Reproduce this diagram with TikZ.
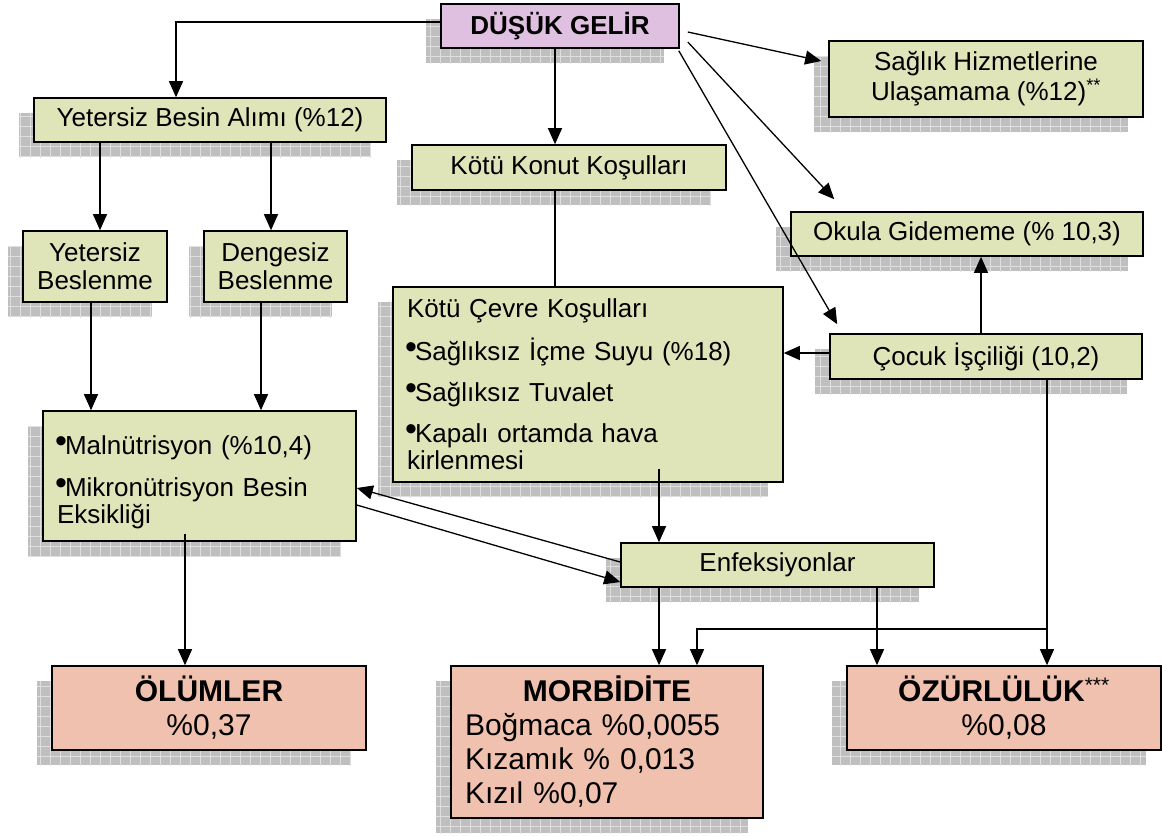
\documentclass[tikz,border=0pt]{standalone}
\usepackage{fontspec}
\setmainfont{Liberation Sans}
\usepackage{tikz}
\usetikzlibrary{positioning,arrows.meta,shadows,patterns.meta}
\definecolor{boxgreen}{HTML}{DFE5B9}
\definecolor{boxpink}{HTML}{F0C1AE}
\definecolor{boxlilac}{HTML}{E0C0E0}
\newcommand{\blt}{\makebox[8pt][c]{\raisebox{2pt}{\fontsize{34}{34}\selectfont •}}}
\tikzset{%
  shd/.style = {drop shadow={shadow xshift=-15pt,shadow yshift=-15pt,
        opacity=1,fill=gray!50},
        general shadow={shadow xshift=-15pt,shadow yshift=-15pt,
        pattern={Hatch[distance=10pt,angle=0,line width=.6pt]},pattern color=gray!25}},
  bx/.style = {rectangle,draw,line width=1.6pt,shd,inner sep=0pt,
        font=\fontsize{26}{28}\selectfont,align=center},
  gbx/.style = {bx,fill=boxgreen},
  pbx/.style = {bx,fill=boxpink,font=\fontsize{30}{34}\selectfont},
  lbx/.style = {bx,fill=boxlilac},
  arr/.style = {-{Triangle[length=16pt,width=14pt]},line width=1.3pt},
  ln/.style = {line width=1.3pt}
}

\begin{document}
\begin{tikzpicture}[x=1pt,y=-1pt]
\useasboundingbox (0,0) rectangle (1162,836);
% top row
\node[lbx,minimum width=238pt,minimum height=44pt] (gelir) at (560,26) {\textbf{DÜŞÜK GELİR}};
\node[gbx,minimum width=352pt,minimum height=44pt] (besin) at (210,120) {Yetersiz Besin Alımı (\%12)};
\node[gbx,minimum width=314pt,minimum height=45pt] (konut) at (569,167.5) {Kötü Konut Koşulları};
\node[gbx,minimum width=314pt,minimum height=76pt,font=\fontsize{26}{30}\selectfont] (saglik) at (986,79)
    {Sağlık Hizmetlerine\\Ulaşamama (\%12)\textsuperscript{**}};
% middle
\node[gbx,minimum width=144pt,minimum height=71pt] (yetbes) at (95,266.5) {Yetersiz\\Beslenme};
\node[gbx,minimum width=143pt,minimum height=71pt] (denbes) at (275.5,266.5) {Dengesiz\\Beslenme};
\node[gbx,minimum height=195pt,text width=362pt,inner xsep=14pt,align=left,
    font=\fontsize{26}{27}\selectfont] (cevre) at (588,384.5)
    {Kötü Çevre Koşulları\\[14pt]\blt Sağlıksız İçme Suyu (\%18)\\[14pt]\blt Sağlıksız Tuvalet\\[14pt]\blt Kapalı ortamda hava\\kirlenmesi};
\node[gbx,minimum width=352pt,minimum height=44pt] (okul) at (967,234) {Okula Gidememe (\% 10,3)};
\node[gbx,minimum width=312pt,minimum height=45pt] (cocuk) at (986,356.5) {Çocuk İşçiliği (10,2)};
\node[gbx,minimum height=130pt,text width=285pt,inner xsep=14pt,align=left,
    font=\fontsize{26}{27}\selectfont] (maln) at (199.5,476)
    {\rule{0pt}{32pt}\blt Malnütrisyon (\%10,4)\\[15pt]\blt Mikronütrisyon Besin\\Eksikliği};
\node[gbx,minimum width=313pt,minimum height=44pt] (enf) at (777.5,565) {Enfeksiyonlar};
% bottom row
\node[pbx,minimum width=314pt,minimum height=84pt] (olum) at (209,708) {\textbf{ÖLÜMLER}\\\%0,37};
\node[pbx,minimum height=152pt,text width=284pt,inner xsep=14pt,align=left] (morb) at (607,742)
    {\makebox[\hsize]{\textbf{MORBİDİTE}}\\Boğmaca \%0,0055\\Kızamık \% 0,013\\Kızıl \%0,07};
\node[pbx,minimum width=314pt,minimum height=84pt] (ozur) at (1004,708)
    {\textbf{ÖZÜRLÜLÜK}\textsuperscript{\mdseries ***}\\\%0,08};

% connectors
\draw[arr] ([yshift=4pt]gelir.west) -| ([xshift=-34pt]besin.north);
\draw[arr] ([xshift=-5pt]gelir.south) -- ([xshift=-5pt]gelir.south |- konut.north);
\draw[arr] ([shift={(8pt,-6pt)}]gelir.east) -- ([shift={(-7pt,18pt)}]saglik.west);
\draw[arr] ([shift={(8pt,-16pt)}]gelir.east) -- ([shift={(44pt,12pt)}]okul.north west);
\draw[arr] ([shift={(-1pt,-2pt)}]gelir.south east) -- ([shift={(8pt,9pt)}]cocuk.north west);
\draw[arr] ([xshift=5pt]yetbes.north |- besin.south) -- ([xshift=5pt]yetbes.north);
\draw[arr] ([xshift=-4.5pt]denbes.north |- besin.south) -- ([xshift=-4.5pt]denbes.north);
\draw[arr] ([xshift=-4pt]yetbes.south) -- ([xshift=-4pt]yetbes.south |- maln.north);
\draw[arr] ([xshift=-14.5pt]denbes.south) -- ([xshift=-14.5pt]denbes.south |- maln.north);
\draw[ln] ([xshift=-14pt]konut.south) -- ([xshift=-14pt]konut.south |- cevre.north);
\draw[arr] ([yshift=3.5pt]cocuk.west) -- ([yshift=3.5pt]cocuk.west -| cevre.east);
\draw[arr] ([xshift=-5pt]cocuk.north) -- ([xshift=-5pt]cocuk.north |- okul.south);
\draw[arr] ([shift={(71pt,14pt)}]cevre.south) -- ([xshift=71pt]cevre.south |- enf.north);
\draw[arr] ([yshift=3pt]enf.west) -- ([yshift=-12pt]maln.east);
\draw[arr] ([yshift=-29pt]maln.east) -- ([yshift=-17pt]enf.west);
\draw[arr] ([shift={(-14.5pt,8pt)}]maln.south) -- ([xshift=-14.5pt]maln.south |- olum.north);
\draw[arr] ([xshift=-118.5pt]enf.south) -- ([xshift=-118.5pt]enf.south |- morb.north);
\draw[arr] ([xshift=99.5pt]enf.south) -- ([xshift=99.5pt]enf.south |- ozur.north);
\draw[arr] ([xshift=61pt]cocuk.south) -- ([xshift=61pt]cocuk.south |- ozur.north);
\coordinate (brk) at (1047,629);
\draw[arr] (brk) -| ([xshift=90pt]morb.north);
\end{tikzpicture}
\end{document}
